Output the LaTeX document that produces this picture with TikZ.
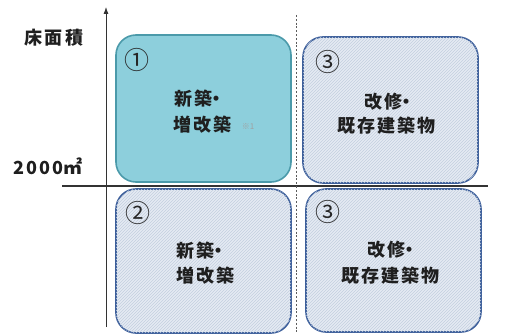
\documentclass[tikz,border=0pt]{standalone}
\usepackage{fontspec}
\newfontfamily\jp{Noto Sans CJK JP}
\newfontfamily\jpb{Noto Sans CJK JP}[LetterSpace=12]
\usetikzlibrary{patterns,arrows.meta}
\definecolor{tealfill}{HTML}{8DCFDC}
\definecolor{tealline}{HTML}{4B9AAA}
\definecolor{bluefill}{HTML}{E5EBF3}
\definecolor{bluehatch}{HTML}{C3CFDF}
\definecolor{blueline}{HTML}{3D5F9B}
\definecolor{axisgray}{HTML}{333333}
\definecolor{notegray}{HTML}{A0A0A0}
\newcommand{\mdot}{\kern-5pt・}
\begin{document}
\begin{tikzpicture}[x=1pt,y=-1pt,
  quad/.style={rounded corners=20pt, line width=1.6pt, inner sep=0pt},
  hatched/.style={quad, draw=blueline, fill=bluefill,
     postaction={pattern=north east lines, pattern color=bluehatch}},
  solidq/.style={quad, draw=tealline, fill=tealfill},
  lbl/.style={font=\jpb\bfseries\fontsize{18}{18}\selectfont, inner sep=0pt, anchor=west, text=black!88},
  num/.style={font=\jp\fontsize{25}{25}\selectfont, inner sep=0pt, text=black!85},
  axislbl/.style={font=\jpb\bfseries\fontsize{18}{18}\selectfont, inner sep=0pt, text=black!88}]
\useasboundingbox (0,0) rectangle (509,334);
% quadrants
\node[solidq, minimum width=175pt, minimum height=147pt] (q1) at (203.5,108.5) {};
\node[hatched, minimum width=175pt, minimum height=146pt] (q3a) at (390.5,110) {};
\node[hatched, minimum width=175pt, minimum height=144pt] (q2) at (203.5,261) {};
\node[hatched, minimum width=175pt, minimum height=143pt] (q3b) at (393.5,260.5) {};
% axes
\coordinate (ybot) at (106,327);
\coordinate (ytop) at (106,7);
\coordinate (xl) at (62,186);
\coordinate (xr) at (488,186);
\coordinate (dt) at (296,15);
\coordinate (db) at (296,332);
\draw[axisgray, line width=0.8pt, -{Latex[length=7pt,width=5pt]}] (ybot) -- (ytop);
\draw[axisgray, line width=1.3pt] (xl) -- (xr);
\draw[axisgray!80, line width=1pt, dash pattern=on 2pt off 1.8pt] (dt) -- (db);
% axis labels
\node[axislbl] (yl) at (54,38) {床面積};
\node[axislbl, anchor=west] (th) at (13,166) {2000{\jp\bfseries\fontsize{19}{19}\selectfont ㎡}};
% numbers
\node[num] (n1) at (137,60) {①};
\node[num] (n3a) at (328,62) {③};
\node[num] (n2) at (138,213) {②};
\node[num] (n3b) at (328,212) {③};
% texts
\node[lbl] (t1a) at (174,99) {新築\mdot};
\node[lbl] (t1b) at (173,125) {増改築};
\node[font=\jp\fontsize{8}{8}\selectfont, text=notegray, inner sep=0pt] (note) at (248,127) {※1};
\node[lbl] (t3a) at (364,102) {改修\mdot};
\node[lbl] (t3b) at (337,126) {既存建築物};
\node[lbl] (t2a) at (176,251) {新築\mdot};
\node[lbl] (t2b) at (176,276) {増改築};
\node[lbl] (t4a) at (367,250) {改修\mdot};
\node[lbl] (t4b) at (341,276) {既存建築物};
\end{tikzpicture}
\end{document}
